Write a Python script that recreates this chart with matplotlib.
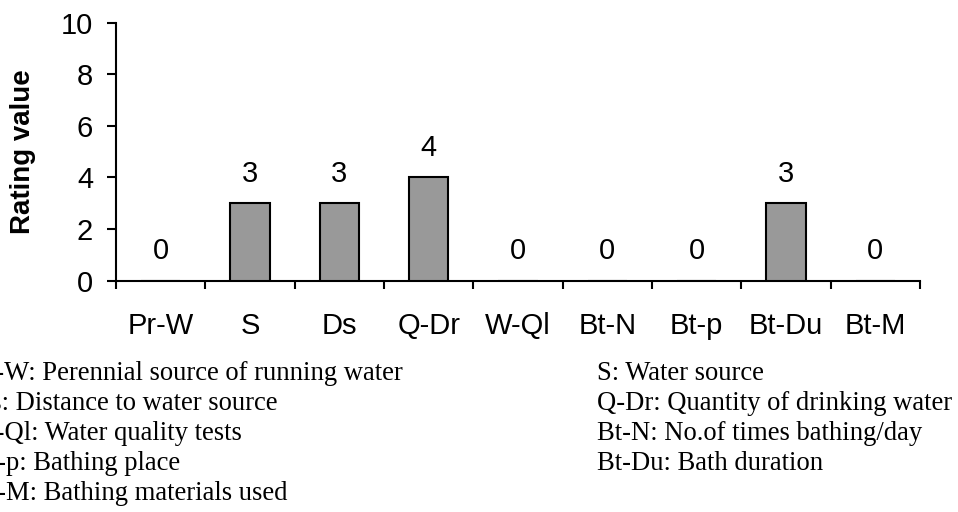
import matplotlib
matplotlib.use("Agg")
import matplotlib.pyplot as plt
import numpy as np

categories = ["Pr-W", "S", "Ds", "Q-Dr", "W-Ql", "Bt-N", "Bt-p", "Bt-Du", "Bt-M"]
values = [0, 3, 3, 4, 0, 0, 0, 3, 0]
yticks = [0, 2, 4, 6, 8, 10]
left_notes = ["Pr-W: Perennial source of running water",
              "Ds: Distance to water source",
              "W-Ql: Water quality tests",
              "Bt-p: Bathing place",
              "Bt-M: Bathing materials used"]
right_notes = ["S: Water source",
               "Q-Dr: Quantity of drinking water",
               "Bt-N: No.of times bathing/day",
               "Bt-Du: Bath duration"]

W, H = 958, 512
fig = plt.figure(figsize=(W / 100, H / 100), dpi=100)
ax = fig.add_axes([116 / W, 1 - 280.5 / H, (920 - 116) / W, (280.5 - 22.7) / H])

x = np.arange(len(categories))
ax.bar(x, values, width=0.44, color="#999999", edgecolor="black", linewidth=1.5, zorder=3)

sans = "Liberation Sans"
fs = 21
for xi, v in zip(x, values):
    ax.annotate(str(v), (xi, v), xytext=(0, 21), textcoords="offset points",
                ha="center", va="center", fontsize=fs, family=sans)

ax.set_xlim(-0.5, len(categories) - 0.5)
ax.set_ylim(0, 10)
ax.set_yticks(yticks)
ax.set_yticklabels([str(t) for t in yticks], fontsize=fs, family=sans)
ax.set_xticks(x)
ax.set_xticklabels(categories, fontsize=fs, family=sans)
ax.set_xticks(np.arange(-0.5, len(categories)), minor=True)
ax.tick_params(axis="x", which="major", length=0, pad=23)
ax.tick_params(axis="x", which="minor", length=5.5, width=1.5, direction="out")
ax.tick_params(axis="y", which="major", length=6.5, width=1.5, direction="out", pad=10)

for s in ["top", "right"]:
    ax.spines[s].set_visible(False)
for s in ["left", "bottom"]:
    ax.spines[s].set_linewidth(1.5)

ax.set_ylabel("Rating value", fontsize=20, fontweight="bold", family=sans)
ax.yaxis.set_label_coords(-0.1, 0.5)

serif = "Liberation Serif"
row_y = [373, 403, 433, 464, 494]
for i, t in enumerate(left_notes):
    fig.text(-28 / W, 1 - row_y[i] / H, t, fontsize=19.2, family=serif, ha="left", va="center")
for i, t in enumerate(right_notes):
    fig.text(597 / W, 1 - row_y[i] / H, t, fontsize=19.2, family=serif, ha="left", va="center")

fig.savefig("out.png", dpi=100)
